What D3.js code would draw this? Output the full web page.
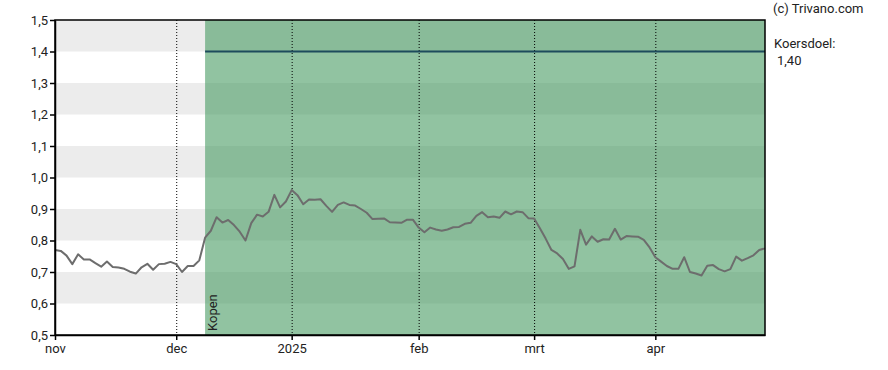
<!DOCTYPE html>
<html>
<head>
<meta charset="utf-8">
<script src="https://cdn.jsdelivr.net/npm/d3@7"></script>
<style>
body{margin:0;background:#fff;}
svg text{font-family:Roboto, "Liberation Sans", sans-serif;font-size:13px;fill:#222;}
</style>
</head>
<body>
<svg id="chart" width="888" height="370"></svg>
<script>
// koers per handelsdag (1 nov 2024 .. eind apr 2025)
var prices = [
  0.770,0.767,0.752,0.725,0.756,0.740,0.740,0.728,0.717,0.733,
  0.716,0.714,0.710,0.701,0.695,0.715,0.726,0.707,0.725,0.726,
  0.732,0.725,0.700,0.719,0.719,0.737,0.809,0.831,0.874,0.857,
  0.865,0.849,0.828,0.800,0.855,0.882,0.876,0.891,0.945,0.905,
  0.924,0.960,0.944,0.915,0.930,0.929,0.931,0.910,0.891,0.913,
  0.921,0.913,0.911,0.900,0.888,0.868,0.869,0.870,0.858,0.857,
  0.856,0.866,0.866,0.841,0.826,0.841,0.835,0.831,0.835,0.842,
  0.843,0.853,0.856,0.878,0.890,0.874,0.876,0.872,0.892,0.883,
  0.892,0.890,0.871,0.870,0.839,0.806,0.770,0.759,0.741,0.710,
  0.718,0.834,0.787,0.813,0.796,0.804,0.803,0.837,0.803,0.814,
  0.813,0.812,0.802,0.778,0.747,0.733,0.719,0.710,0.710,0.747,
  0.700,0.695,0.689,0.720,0.722,0.709,0.702,0.709,0.749,0.736,
  0.744,0.753,0.770,0.775
];
var monthTicks = [0, 21, 41, 63, 83, 104];
var monthLabels = ["nov", "dec", "2025", "feb", "mrt", "apr"];
var yTicks = [0.5, 0.6, 0.7, 0.8, 0.9, 1.0, 1.1, 1.2, 1.3, 1.4, 1.5];
var koersdoel = 1.40;
var kopenStart = 26;

var Chart = (function(){
  return function(selector){
    var svg = d3.select(selector);
    var left = 55, right = 765, top = 20, bottom = 335;

    var x = d3.scaleLinear().domain([0, prices.length - 1]).range([left, right]);
    var y = d3.scaleLinear().domain([0.5, 1.5]).range([bottom, top]);
    var nl = d3.formatLocale({decimal: ",", thousands: ".", grouping: [3], currency: ["€", ""]});
    var fmt = nl.format(".1f");

    // banden
    var bands = d3.range(yTicks.length - 1);
    svg.append('g').selectAll('rect')
      .data(bands)
    .enter().append('rect')
      .attr('x', left)
      .attr('width', right - left)
      .attr('y', function(i){ return y(yTicks[i + 1]); })
      .attr('height', function(i){ return y(yTicks[i]) - y(yTicks[i + 1]); })
      .style('fill', function(i){ return i % 2 ? '#ececec' : '#ffffff'; });

    // advies zone
    svg.append('rect')
      .attr('x', x(kopenStart))
      .attr('y', top)
      .attr('width', right - x(kopenStart))
      .attr('height', bottom - top)
      .style('fill', 'rgb(72,155,98)')
      .style('fill-opacity', 0.6);

    svg.append('text')
      .attr('transform', 'translate(' + (x(kopenStart) + 12) + ',' + (bottom - 4) + ') rotate(-90)')
      .text('Kopen');

    // stippellijnen
    svg.append('g').selectAll('line')
      .data(monthTicks.slice(1))
    .enter().append('line')
      .attr('x1', function(d){ return x(d) + 0.5; })
      .attr('x2', function(d){ return x(d) + 0.5; })
      .attr('y1', top)
      .attr('y2', bottom)
      .style('stroke', '#000')
      .style('stroke-width', '1px')
      .style('stroke-dasharray', '1,2');

    // koersdoel
    svg.append('line')
      .attr('x1', x(kopenStart))
      .attr('x2', right)
      .attr('y1', y(koersdoel))
      .attr('y2', y(koersdoel))
      .style('stroke', '#1d4b5c')
      .style('stroke-width', '2px');

    var line = d3.line()
      .x(function(d, i){ return x(i); })
      .y(function(d){ return y(d); });

    svg.append('path')
      .datum(prices)
      .attr('d', line)
      .style('fill', 'none')
      .style('stroke', '#6d6d6d')
      .style('stroke-width', '2px')
      .style('stroke-linejoin', 'round');

    // assen
    var yAxis = svg.append('g')
      .attr('transform', 'translate(' + left + ',0)')
      .call(d3.axisLeft(y).tickValues(yTicks).tickFormat(fmt).tickSize(5).tickSizeOuter(0).tickPadding(2));

    var xAxis = svg.append('g')
      .attr('transform', 'translate(0,' + bottom + ')')
      .call(d3.axisBottom(x).tickValues(monthTicks)
        .tickFormat(function(d, i){ return monthLabels[i]; })
        .tickSize(5).tickSizeOuter(0).tickPadding(4));

    [yAxis, xAxis].forEach(function(a){
      a.selectAll('path, line').style('stroke', '#000').style('stroke-width', '1.5px');
      a.selectAll('text').style('font-size', '13px').style('fill', '#222');
    });

    svg.append('rect')
      .attr('x', left)
      .attr('y', top)
      .attr('width', right - left)
      .attr('height', bottom - top)
      .style('fill', 'none')
      .style('stroke', '#000')
      .style('stroke-width', '1.5px');

    svg.append('text').attr('x', 773).attr('y', 13).text('(c) Trivano.com');
    svg.append('text').attr('x', 774).attr('y', 48).text('Koersdoel:');
    svg.append('text').attr('x', 777).attr('y', 65).text(fmt(koersdoel) + '0');
  };
}());

document.addEventListener('DOMContentLoaded', function () {
  var chart = new Chart('#chart');
});
</script>
</body>
</html>
